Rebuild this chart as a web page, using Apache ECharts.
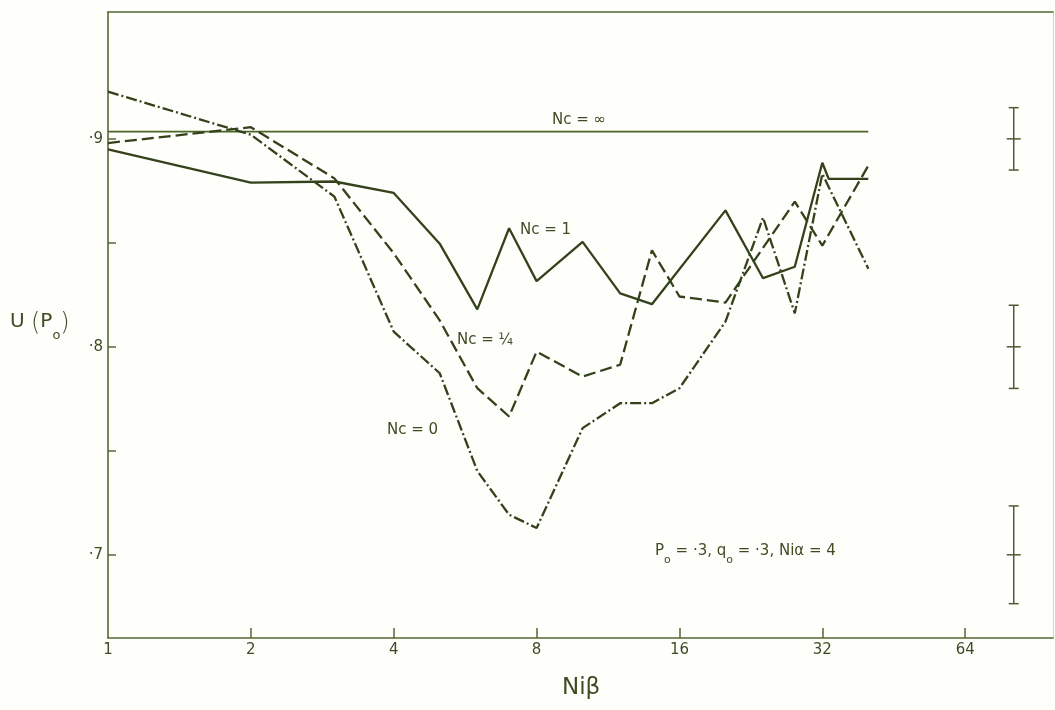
<!DOCTYPE html>
<html>
<head>
<meta charset="utf-8">
<script src="https://cdn.jsdelivr.net/npm/echarts@6/dist/echarts.min.js"></script>
<style>
  html, body { margin: 0; padding: 0; background: #fefefb; }
  #chart { width: 1055px; height: 710px; }
</style>
</head>
<body>
<div id="chart"></div>
<script>
// Niβ positions and U(p0) values for each Nc curve
const niBetaNc1 = [1, 2, 3, 4, 5, 6, 7, 8, 10, 12, 14, 20, 24, 28, 32, 33, 40];
const uNc1 = [0.895, 0.879, 0.8795, 0.874, 0.8496, 0.818, 0.857, 0.8316, 0.8505, 0.8257, 0.8205, 0.8656, 0.833, 0.8385, 0.8885, 0.8808, 0.8808];

const niBetaNcQuarter = [1, 2, 3, 4, 5, 6, 7, 8, 10, 12, 14, 16, 20, 28, 32, 40];
const uNcQuarter = [0.898, 0.9056, 0.881, 0.845, 0.8127, 0.7801, 0.7665, 0.7977, 0.7857, 0.7914, 0.8464, 0.8242, 0.8213, 0.8698, 0.8487, 0.8871];

const niBetaNc0 = [1, 2, 3, 4, 5, 6, 7, 8, 10, 12, 14, 16, 20, 24, 28, 32, 40];
const uNc0 = [0.9227, 0.902, 0.8722, 0.8073, 0.7873, 0.7403, 0.7193, 0.7129, 0.7609, 0.7729, 0.7729, 0.7801, 0.8121, 0.8621, 0.8161, 0.8832, 0.8376];

const niBetaNcInf = [1, 40];
const uNcInf = [0.9035, 0.9035];

// error bars drawn at the right-hand side
const errNiBeta = [81, 81, 81];
const errCentre = [0.9, 0.8, 0.7];
const errHalf = [0.015, 0.02, 0.0235];

// axis ticks and labels
const xTickValues = [1, 2, 4, 8, 16, 32, 64];
const yTickValues = [0.7, 0.75, 0.8, 0.85, 0.9];
const yLabelValues = [0.7, 0.8, 0.9];

const pairs = (xs, ys) => xs.map((x, i) => [x, ys[i]]);

const INK = '#33421b';
const AXIS = '#566836';
const TEXT = '#3e4c24';
const FONT = 'DejaVu Sans';

const chart = echarts.init(document.getElementById('chart'), null, { renderer: 'canvas' });

const errData = errNiBeta.map((x, i) => [x, errCentre[i], errHalf[i]]);

chart.setOption({
  backgroundColor: '#fefefb',
  animation: false,
  grid: { left: 108, right: 2, top: 12, bottom: 72, show: false },
  xAxis: [{
    type: 'log', logBase: 2, min: 1, max: 98,
    axisLine: { show: true, lineStyle: { color: AXIS, width: 1.6 } },
    axisTick: { show: true, inside: true, length: 10, customValues: xTickValues.slice(1), lineStyle: { color: AXIS, width: 1.5 } },
    axisLabel: { customValues: xTickValues, color: TEXT, fontFamily: FONT, fontSize: 15, margin: 5, formatter: v => String(Math.round(v)) },
    splitLine: { show: false }, minorTick: { show: false }
  }, {
    type: 'log', logBase: 2, min: 1, max: 98, position: 'top',
    axisLine: { show: true, lineStyle: { color: AXIS, width: 1.6 } },
    axisTick: { show: false }, axisLabel: { show: false }, splitLine: { show: false }
  }],
  yAxis: [{
    type: 'value', min: 0.66, max: 0.961,
    axisLine: { show: true, lineStyle: { color: AXIS, width: 1.6 } },
    axisTick: { show: true, inside: true, length: 8, customValues: yTickValues, lineStyle: { color: AXIS, width: 1.5 } },
    axisLabel: { customValues: yLabelValues, color: TEXT, fontFamily: FONT, fontSize: 15, margin: 5, formatter: v => '·' + Math.round(v * 10) },
    splitLine: { show: false }
  }, {
    type: 'value', min: 0.66, max: 0.961, position: 'right',
    axisLine: { show: true, lineStyle: { color: '#d3d8c4', width: 1 } },
    axisTick: { show: false }, axisLabel: { show: false }, splitLine: { show: false }
  }],
  series: [
    {
      name: 'Nc = ∞', type: 'line', data: pairs(niBetaNcInf, uNcInf), symbol: 'none',
      lineStyle: { color: '#4d6624', width: 1.6 }
    },
    {
      name: 'Nc = 1', type: 'line', data: pairs(niBetaNc1, uNc1), symbol: 'none',
      lineStyle: { color: INK, width: 2.3 }
    },
    {
      name: 'Nc = 1/4', type: 'line', data: pairs(niBetaNcQuarter, uNcQuarter), symbol: 'none',
      lineStyle: { color: INK, width: 2.3, type: [12, 5] }
    },
    {
      name: 'Nc = 0', type: 'line', data: pairs(niBetaNc0, uNc0), symbol: 'none',
      lineStyle: { color: INK, width: 2.3, type: [11, 3, 2, 3] }
    },
    {
      name: 'error', type: 'custom', data: errData,
      renderItem: function (params, api) {
        const x = api.value(0), c = api.value(1), h = api.value(2);
        const top = api.coord([x, c + h]);
        const mid = api.coord([x, c]);
        const bot = api.coord([x, c - h]);
        const style = { stroke: '#4f5a36', lineWidth: 1.5 };
        return {
          type: 'group',
          children: [
            { type: 'line', shape: { x1: top[0], y1: top[1], x2: bot[0], y2: bot[1] }, style },
            { type: 'line', shape: { x1: top[0] - 5, y1: top[1], x2: top[0] + 5, y2: top[1] }, style },
            { type: 'line', shape: { x1: bot[0] - 5, y1: bot[1], x2: bot[0] + 5, y2: bot[1] }, style },
            { type: 'line', shape: { x1: mid[0] - 7, y1: mid[1], x2: mid[0] + 7, y2: mid[1] }, style }
          ]
        };
      }
    }
  ],
  graphic: [
    { type: 'text', left: 552, top: 113, style: { text: 'Nc = ∞', fill: TEXT, font: '15px "DejaVu Sans"' } },
    { type: 'text', left: 520, top: 223, style: { text: 'Nc = 1', fill: TEXT, font: '15px "DejaVu Sans"' } },
    { type: 'text', left: 457, top: 333, style: { text: 'Nc = ¼', fill: TEXT, font: '15px "DejaVu Sans"' } },
    { type: 'text', left: 387, top: 423, style: { text: 'Nc = 0', fill: TEXT, font: '15px "DejaVu Sans"' } },
    {
      type: 'text', left: 655, top: 544,
      style: {
        text: '{m|P}{s|o}{m| = ·3, q}{s|o}{m| = ·3, Niα = 4}',
        rich: {
          m: { fill: TEXT, fontFamily: FONT, fontSize: 15, lineHeight: 16, verticalAlign: 'top' },
          s: { fill: TEXT, fontFamily: FONT, fontSize: 11, lineHeight: 22, verticalAlign: 'bottom' }
        }
      }
    },
    {
      type: 'text', left: 10, top: 312,
      style: {
        text: '{m|U }{p|(}{m|P}{s|o}{p|)}',
        rich: {
          m: { fill: TEXT, fontFamily: FONT, fontSize: 20, lineHeight: 24, verticalAlign: 'top' },
          p: { fill: TEXT, fontFamily: FONT, fontSize: 24, fontWeight: 'lighter', lineHeight: 28, verticalAlign: 'top' },
          s: { fill: TEXT, fontFamily: FONT, fontSize: 13, lineHeight: 30, verticalAlign: 'bottom' }
        }
      }
    },
    { type: 'text', left: 562, top: 677, style: { text: 'Niβ', fill: TEXT, font: '500 23px "DejaVu Sans"' } }
  ]
});
</script>
</body>
</html>
